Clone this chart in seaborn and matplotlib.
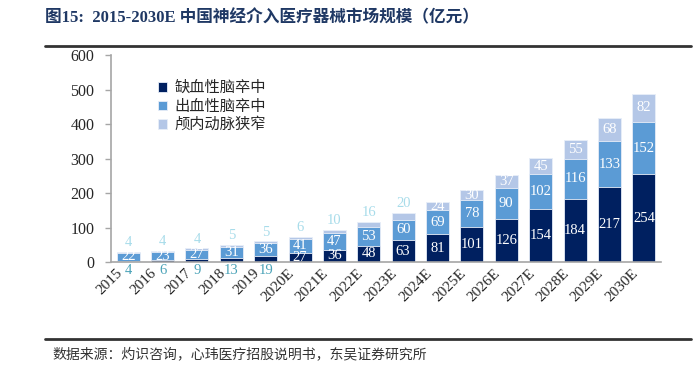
import numpy as np
import pandas as pd
import matplotlib
matplotlib.use('Agg')
import matplotlib.pyplot as plt
import matplotlib.transforms as mtransforms
import seaborn as sns

years = ['2015', '2016', '2017', '2018', '2019', '2020E', '2021E', '2022E',
         '2023E', '2024E', '2025E', '2026E', '2027E', '2028E', '2029E', '2030E']
ischemic = [4, 6, 9, 13, 19, 27, 36, 48, 63, 81, 101, 126, 154, 184, 217, 254]
hemorrhagic = [22, 23, 27, 31, 36, 41, 47, 53, 60, 69, 78, 90, 102, 116, 133, 152]
stenosis = [4, 4, 4, 5, 5, 6, 10, 16, 20, 24, 30, 37, 45, 55, 68, 82]
series_names = ['缺血性脑卒中', '出血性脑卒中', '颅内动脉狭窄']

c_dark = '#002060'
c_mid = '#5B9BD5'
c_light = '#B4C7E7'

sns.set_style('white')
plt.rcParams['font.family'] = ['Liberation Serif', 'Noto Sans CJK SC', 'DejaVu Sans']

df = pd.DataFrame({'year': years, 'isc': ischemic, 'hem': hemorrhagic, 'ste': stenosis})
df['mid_top'] = df['isc'] + df['hem']
df['total'] = df['mid_top'] + df['ste']

fig = plt.figure(figsize=(6.98, 3.65), dpi=100)
ax = fig.add_axes([0.159, 0.282, 0.788, 0.567])

# stacked bars via overlapping cumulative heights
sns.barplot(data=df, x='year', y='total', color=c_light, width=0.67, saturation=1,
            ax=ax, label=series_names[2], edgecolor='#E8EEF8', linewidth=0.6)
sns.barplot(data=df, x='year', y='mid_top', color=c_mid, width=0.67, saturation=1,
            ax=ax, label=series_names[1], edgecolor='#E8EEF8', linewidth=0.6)
sns.barplot(data=df, x='year', y='isc', color=c_dark, width=0.67, saturation=1,
            ax=ax, label=series_names[0], edgecolor='#E8EEF8', linewidth=0.6)

num_font = dict(family='Liberation Serif', fontsize=10.5)
for i, row in df.iterrows():
    # ischemic labels
    if row['isc'] >= 25:
        ax.text(i, row['isc'] / 2, str(row['isc']), ha='center', va='center',
                color='white', **num_font)
    else:
        ax.text(i, -25, str(row['isc']), ha='center', va='center',
                color='#4BA3B8', **num_font)
    # hemorrhagic labels
    ax.text(i, row['isc'] + row['hem'] / 2, str(row['hem']), ha='center',
            va='center', color='white', **num_font)
    # stenosis labels
    if row['ste'] >= 24:
        ax.text(i, row['mid_top'] + row['ste'] / 2, str(row['ste']), ha='center',
                va='center', color='white', **num_font)
    else:
        ax.text(i, row['total'] + 8, str(row['ste']), ha='center', va='bottom',
                color='#A8DCEA', **num_font)

ax.set_ylim(0, 600)
ax.set_yticks(range(0, 601, 100))
ax.set_xlim(-0.5, 15.5)
ax.set_xlabel('')
ax.set_ylabel('')
ax.tick_params(axis='y', labelsize=11.5, length=4, width=1, color='#A6A6A6',
               direction='out', left=True, pad=8)
ax.tick_params(axis='x', labelsize=11, length=0, pad=3)
shift = mtransforms.ScaledTranslation(-9 / 72, 0, fig.dpi_scale_trans)
for lab in ax.get_xticklabels():
    lab.set_rotation(45)
    lab.set_ha('right')
    lab.set_rotation_mode('anchor')
    lab.set_transform(lab.get_transform() + shift)
for s in ['top', 'right']:
    ax.spines[s].set_visible(False)
for s in ['left', 'bottom']:
    ax.spines[s].set_color('#A6A6A6')
    ax.spines[s].set_linewidth(1.2)

handles, labels = ax.get_legend_handles_labels()
order = [2, 1, 0]
ax.legend([handles[k] for k in order], [labels[k] for k in order],
          loc='upper left', bbox_to_anchor=(0.06, 0.95), frameon=False,
          prop={'family': 'Noto Sans CJK SC', 'size': 11},
          handlelength=0.6, handleheight=0.6, handletextpad=0.5, labelspacing=0.1)

fig.text(0.065, 0.95, '图15:  2015-2030E 中国神经介入医疗器械市场规模（亿元）',
         fontsize=12, fontweight='bold', color='#1F3864', va='center', ha='left',
         family=['Liberation Serif', 'Noto Sans CJK SC'])
fig.add_artist(plt.Line2D([0.065, 0.99], [0.874, 0.874], color='#333333', lw=2))
fig.add_artist(plt.Line2D([0.065, 0.99], [0.071, 0.071], color='#333333', lw=2))
fig.text(0.075, 0.03, '数据来源：灼识咨询，心玮医疗招股说明书，东吴证券研究所',
         fontsize=10, color='#333333', va='center', ha='left',
         family=['Noto Sans CJK SC', 'DejaVu Sans'])

fig.savefig('out.png', dpi=100)
